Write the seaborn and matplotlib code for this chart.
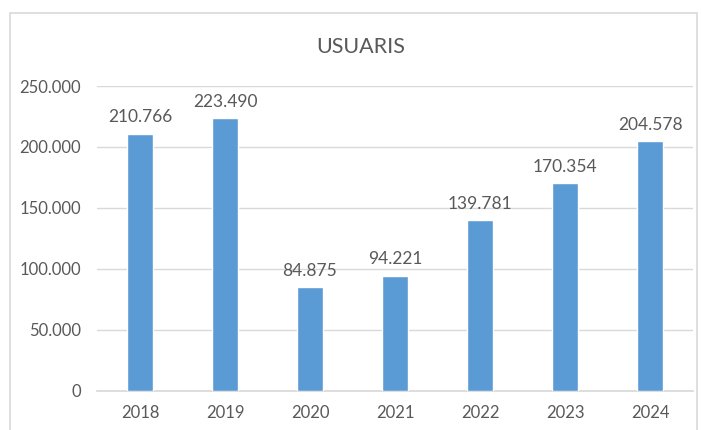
import matplotlib
matplotlib.use("Agg")
import matplotlib.pyplot as plt
import seaborn as sns
import pandas as pd
from matplotlib.patches import Rectangle
from matplotlib.ticker import FuncFormatter

# === Data ===
years = ["2018", "2019", "2020", "2021", "2022", "2023", "2024"]
usuaris = [210766, 223490, 84875, 94221, 139781, 170354, 204578]
yticks = [0, 50000, 100000, 150000, 200000, 250000]

df = pd.DataFrame({"Any": years, "Usuaris": usuaris})

sns.set_theme(style="white")
plt.rcParams["font.family"] = ["Lato", "DejaVu Sans"]

text_color = "#595959"
bar_color = "#5B9BD5"
grid_color = "#D9D9D9"


def fmt(v, pos=None):
    return f"{int(v):,}".replace(",", ".")


fig = plt.figure(figsize=(7.01, 4.30), dpi=100)
ax = fig.add_axes([0.139, 0.091, 0.849, 0.709])

sns.barplot(data=df, x="Any", y="Usuaris", color=bar_color, width=0.31,
            saturation=1, ax=ax, zorder=3)

ax.set_ylim(0, 250000)
ax.set_yticks(yticks)
ax.yaxis.set_major_formatter(FuncFormatter(fmt))
ax.grid(axis="y", color=grid_color, linewidth=1, zorder=0)
ax.set_xlabel("")
ax.set_ylabel("")
for s in ["top", "right", "left"]:
    ax.spines[s].set_visible(False)
ax.spines["bottom"].set_color(grid_color)
ax.tick_params(axis="both", colors=text_color, labelsize=12, length=0)
ax.tick_params(axis="y", pad=12)
ax.tick_params(axis="x", pad=10)

# value labels
for i, v in enumerate(usuaris):
    ax.text(i, v + 7000, fmt(v), ha="center", va="bottom",
            fontsize=12.5, color=text_color)

fig.text(0.514, 0.89, "USUARIS", ha="center", va="center",
         fontsize=15.5, color=text_color)

# chart frame
fig.patches.append(Rectangle((10 / 701, -0.1), 687 / 701, 1 - 13 / 430 + 0.1,
                             transform=fig.transFigure, fill=False,
                             edgecolor=grid_color, linewidth=1.2))

fig.savefig("out.png", dpi=100)
